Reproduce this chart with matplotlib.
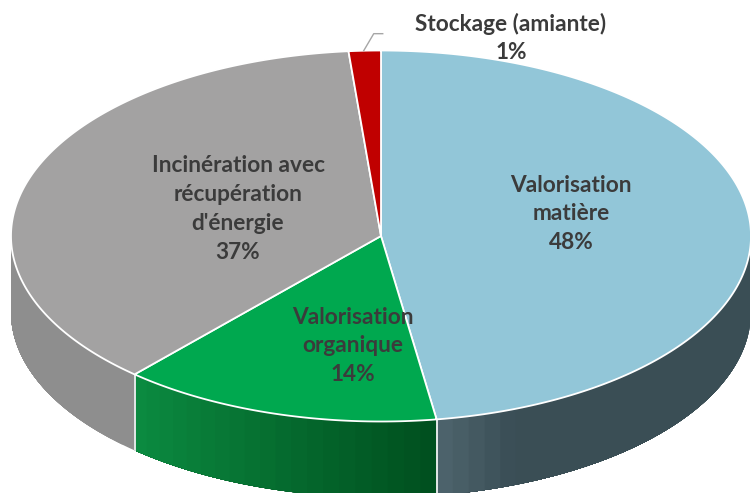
import numpy as np
import matplotlib
matplotlib.use("Agg")
import matplotlib.pyplot as plt
from matplotlib.colors import to_rgb

categories = ["Valorisation\nmatière", "Valorisation\norganique",
              "Incinération avec\nrécupération\nd'énergie", "Stockage (amiante)"]
shares = [47.6, 14.0, 37.0, 1.4]
percent_labels = ["48%", "14%", "37%", "1%"]
top_colors = ["#92C6D8", "#00A84F", "#A3A2A2", "#C00000"]
side_start = ["#506770", "#0B8A40", "#8E8E8E", "#8E0000"]
side_end = ["#3A4E55", "#00501F", "#8E8E8E", "#8E0000"]
label_pos = [(571, 214), (353, 346), (238, 209), (511, 38)]

CX, CY, RX, RY, DEPTH = 381.0, 236.0, 370.0, 185.5, 76.0
TEXT = "#3B3B3B"

fig = plt.figure(figsize=(7.5, 4.93), dpi=100, facecolor="white")
ax = fig.add_axes([0, 0, 1, 1])
ax.set_xlim(0, 750)
ax.set_ylim(493, 0)
ax.axis("off")

def rim(t):
    t = np.asarray(t, dtype=float)
    return CX + RX * np.sin(t), CY - RY * np.cos(t)

edges = np.cumsum([0] + shares) / sum(shares) * 2 * np.pi

# side walls (front half only); each band runs to the slice's end so no seams show
for i in range(len(shares)):
    a0, a1 = max(edges[i], np.pi / 2), min(edges[i + 1], 3 * np.pi / 2)
    if a1 <= a0:
        continue
    n = max(int((a1 - a0) / np.radians(2.5)), 1)
    bands = np.linspace(a0, a1, n + 1)
    c0, c1 = np.array(to_rgb(side_start[i])), np.array(to_rgb(side_end[i]))
    for j in range(n):
        if i == 0:
            f = min(1.0, (a1 - bands[j]) / np.radians(13.5))
        elif i == 2:
            f = 0.0
        else:
            f = 1 - j / max(n - 1, 1)
        col = c0 + (c1 - c0) * f
        t = np.linspace(bands[j], a1, 120)
        x, y = rim(t)
        ax.fill(np.r_[x, x[::-1]], np.r_[y, y[::-1] + DEPTH], color=col, lw=0, zorder=1)
    for a in (edges[i], edges[i + 1]):
        if np.pi / 2 < a < 3 * np.pi / 2:
            x, y = rim(a)
            ax.plot([x, x], [y, y + DEPTH], color="#E4E8E8", lw=1.2, zorder=2)

# top faces
for i in range(len(shares)):
    t = np.linspace(edges[i], edges[i + 1], 300)
    x, y = rim(t)
    ax.fill(np.r_[CX, x], np.r_[CY, y], facecolor=top_colors[i], edgecolor="white", lw=1.3, zorder=3,
            joinstyle="round")

# labels
for i, (cat, pct) in enumerate(zip(categories, percent_labels)):
    ax.text(label_pos[i][0], label_pos[i][1], f"{cat}\n{pct}", ha="center", va="center",
            family="Lato", weight="bold", fontsize=16.3, color=TEXT, linespacing=1.46, zorder=5)

# leader line for the smallest slice
mid = (edges[3] + edges[4]) / 2
lx, ly = rim(mid)
ax.plot([lx - 1, lx + 9, lx + 18], [ly, ly - 17, ly - 17], color="#A6A6A6", lw=1, zorder=4)

fig.savefig("out.png", dpi=100)
